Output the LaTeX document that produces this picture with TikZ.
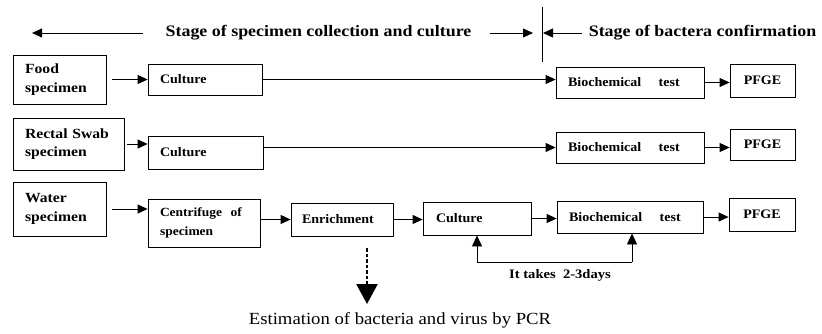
\documentclass[tikz,border=0pt]{standalone}
\usepackage{fontspec}
\setmainfont{Liberation Serif}
\newfontfamily\widefont[FakeStretch=1.12]{Liberation Serif}
\newfontfamily\boxfont[FakeStretch=1.08]{Liberation Serif}
\newfontfamily\pcrfont[FakeStretch=1.1]{Liberation Serif}
\usetikzlibrary{arrows.meta,calc}
\begin{document}
\begin{tikzpicture}[x=1pt,y=-1pt,
  bx/.style={draw, line width=0.8pt, inner xsep=12pt, inner ysep=0pt, align=left,
    font=\boxfont\bfseries\fontsize{13}{18.5}\selectfont},
  sp/.style={bx, font=\widefont\bfseries\fontsize{14}{18.5}\selectfont},
  pf/.style={draw, line width=0.8pt, inner sep=0pt, align=center, minimum width=65pt,
    font=\boxfont\bfseries\fontsize{13}{16}\selectfont},
  lbl/.style={inner sep=0pt, font=\widefont\bfseries\fontsize{16}{18}\selectfont},
  ar/.style={line width=0.8pt, -{Triangle[length=10pt,width=9pt]}},
  ln/.style={line width=0.8pt}]
\useasboundingbox (0,0) rectangle (822,333);

% top stage labels
\node[lbl] (st1) at (318.5,33) {Stage of specimen collection and culture};
\node[lbl] (st2) at (702.5,33) {Stage of bactera confirmation};
\coordinate (la) at (32,33);
\coordinate (sep) at (542,33);
\coordinate (sepT) at (542,7);
\coordinate (sepB) at (542,62);
\draw[ln] (sepT) -- (sepB);
\draw[ar, shorten <=22pt] (st1.west) -- (la);
\draw[ar, shorten <=18pt, shorten >=9pt] (st1.east) -- (sep);
\draw[ar, shorten <=7pt, shorten >=1pt] (st2.west) -- (sep);

% row 1
\node[sp, text width=69pt, minimum height=49pt] (food) at (59.5,79.5) {Food\\specimen};
\node[bx, text width=90pt, minimum height=31pt] (cul1) at (205,79.5) {Culture};
\node[bx, text width=124pt, minimum height=31pt] (bio1) at (630,82.5) {Biochemical\ \ \ \ test};
\node[pf, minimum height=33pt] (pf1) at (762.5,80.5) {PFGE};
\draw[ar, shorten <=6pt] (food.east) -- (food.east -| cul1.west);
\draw[ar] (cul1.east) -- (cul1.east -| bio1.west);
\draw[ar] (bio1.east) -- (bio1.east -| pf1.west);

% row 2
\node[sp, text width=87pt, minimum height=52pt] (rect) at (68.5,144) {Rectal Swab\\specimen};
\node[bx, text width=91pt, minimum height=33pt] (cul2) at (205.5,152.5) {Culture};
\node[bx, text width=124pt, minimum height=31pt] (bio2) at (630,147.5) {Biochemical\ \ \ \ test};
\node[pf, minimum height=31pt] (pf2) at (762.5,144.5) {PFGE};
\draw[ar, shorten <=3pt] (rect.east) -- (rect.east -| cul2.west);
\draw[ar] (cul2.east |- bio2.west) -- (bio2.west);
\draw[ar] (bio2.east) -- (bio2.east -| pf2.west);

% row 3
\node[sp, text width=69pt, minimum height=54pt] (water) at (59.5,209) {Water\\specimen};
\node[bx, text width=88pt, minimum height=48pt, font=\boxfont\bfseries\fontsize{12.5}{19}\selectfont] (cent) at (204,223) {Centrifuge\ \ of\\specimen};
\node[bx, inner xsep=11pt, text width=80pt, minimum height=33pt] (enr) at (342,219.5) {Enrichment};
\node[bx, inner xsep=13pt, text width=82pt, minimum height=33pt] (cul3) at (477,218.5) {Culture};
\node[bx, text width=122pt, minimum height=32pt] (bio3) at (630,217) {Biochemical\ \ \ \ test};
\node[pf, minimum width=66pt, minimum height=33pt] (pf3) at (762,214.5) {PFGE};
\draw[ar, shorten <=6pt] (water.east) -- (water.east -| cent.west);
\draw[ar] (cent.east |- enr.west) -- (enr.west);
\draw[ar] (enr.east) -- (enr.east -| cul3.west);
\draw[ar] (cul3.east) -- (cul3.east -| bio3.west);
\draw[ar] (bio3.east) -- (bio3.east -| pf3.west);

% duration bracket
\coordinate (h1) at (477,262);
\coordinate (h2) at (632,262);
\draw[ln] (h1) -- (h2);
\draw[line width=0.8pt, -{Triangle[length=11pt,width=10pt]}] (h1) -- (cul3.south);
\draw[line width=0.8pt, -{Triangle[length=11pt,width=10pt]}] (h2) -- (h2 |- bio3.south);
\node[inner sep=0pt, font=\widefont\bfseries\fontsize{13}{14}\selectfont] (takes) at (560,275) {It takes\ \ 2-3days};

% PCR
\node[inner sep=0pt, font=\pcrfont\fontsize{17}{19}\selectfont] (pcr) at (400,320) {Estimation of bacteria and virus by PCR};
\coordinate (dst) at (367,248);
\coordinate (dtip) at (367,304);
\draw[line width=2.5pt, dash pattern=on 3.5pt off 2pt, -{Triangle[length=20pt,width=21pt]}] (dst) -- (dtip);
\end{tikzpicture}
\end{document}
